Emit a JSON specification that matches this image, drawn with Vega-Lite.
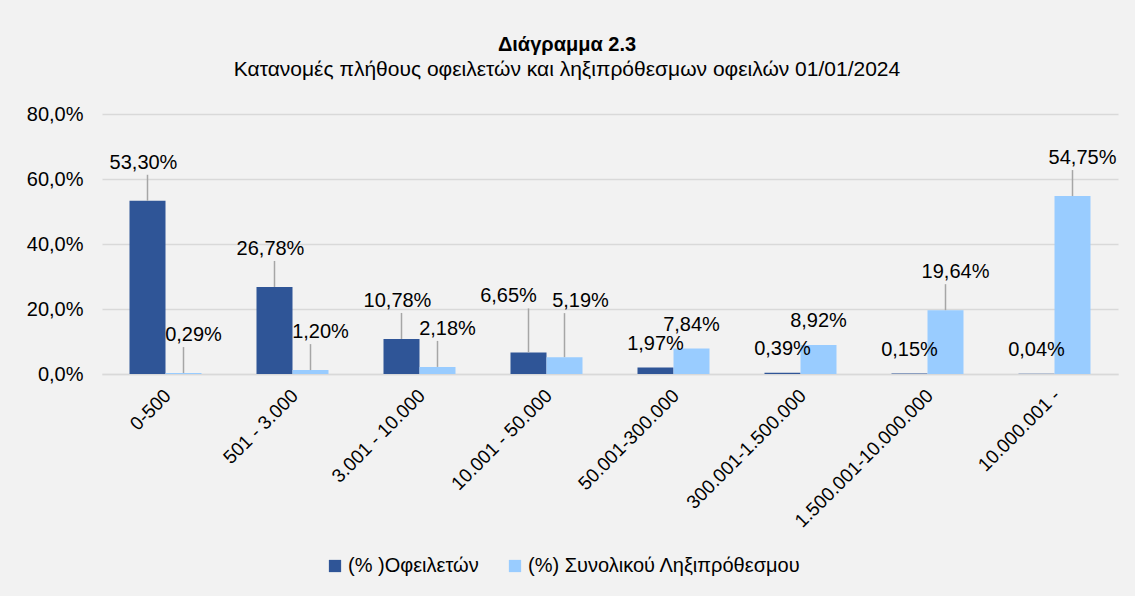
{
  "$schema": "https://vega.github.io/schema/vega-lite/v6.json",
  "autosize": "none",
  "width": 1016,
  "height": 260,
  "padding": {"left": 102, "top": 114, "right": 17, "bottom": 222},
  "background": "#F2F2F2",
  "config": {
    "locale": {"number": {"decimal": ",", "thousands": ".", "grouping": [3], "currency": ["", " €"]}},
    "font": "Liberation Sans",
    "view": {"stroke": null},
    "title": {"font": "Liberation Sans", "subtitleFont": "Liberation Sans"}
  },
  "title": {
    "text": "Διάγραμμα 2.3",
    "subtitle": "Κατανομές πλήθους οφειλετών και ληξιπρόθεσμων οφειλών 01/01/2024",
    "anchor": "middle",
    "dx": -43,
    "offset": 24,
    "fontSize": 20,
    "fontWeight": "bold",
    "color": "#000000",
    "subtitleFontSize": 21,
    "subtitleColor": "#000000",
    "subtitlePadding": 4
  },
  "data": {
    "values": [
      {"cat": "0-500", "series": "(% )Οφειλετών", "value": 0.5330},
      {"cat": "501 - 3.000", "series": "(% )Οφειλετών", "value": 0.2678},
      {"cat": "3.001 - 10.000", "series": "(% )Οφειλετών", "value": 0.1078},
      {"cat": "10.001 - 50.000", "series": "(% )Οφειλετών", "value": 0.0665},
      {"cat": "50.001-300.000", "series": "(% )Οφειλετών", "value": 0.0197},
      {"cat": "300.001-1.500.000", "series": "(% )Οφειλετών", "value": 0.0039},
      {"cat": "1.500.001-10.000.000", "series": "(% )Οφειλετών", "value": 0.0015},
      {"cat": "10.000.001 -", "series": "(% )Οφειλετών", "value": 0.0004},
      {"cat": "0-500", "series": "(%) Συνολικού Ληξιπρόθεσμου", "value": 0.0029},
      {"cat": "501 - 3.000", "series": "(%) Συνολικού Ληξιπρόθεσμου", "value": 0.0120},
      {"cat": "3.001 - 10.000", "series": "(%) Συνολικού Ληξιπρόθεσμου", "value": 0.0218},
      {"cat": "10.001 - 50.000", "series": "(%) Συνολικού Ληξιπρόθεσμου", "value": 0.0519},
      {"cat": "50.001-300.000", "series": "(%) Συνολικού Ληξιπρόθεσμου", "value": 0.0784},
      {"cat": "300.001-1.500.000", "series": "(%) Συνολικού Ληξιπρόθεσμου", "value": 0.0892},
      {"cat": "1.500.001-10.000.000", "series": "(%) Συνολικού Ληξιπρόθεσμου", "value": 0.1964},
      {"cat": "10.000.001 -", "series": "(%) Συνολικού Ληξιπρόθεσμου", "value": 0.5475}
    ]
  },
  "encoding": {
    "x": {
      "field": "cat", "type": "nominal", "sort": null,
      "scale": {"paddingInner": 0.433, "paddingOuter": 0.2165},
      "axis": {
        "title": null, "labelAngle": -45, "labelFontSize": 19, "labelColor": "#000000",
        "labelFont": "Liberation Sans", "ticks": false, "domainColor": "#D9D9D9", "domainWidth": 1.5,
        "labelPadding": 12, "labelOffset": -4, "labelLimit": 300
      }
    },
    "xOffset": {"field": "series", "type": "nominal", "sort": null},
    "y": {
      "field": "value", "type": "quantitative",
      "scale": {"domain": [0, 0.8], "nice": false},
      "axis": {
        "title": null, "format": ".1%", "values": [0, 0.2, 0.4, 0.6, 0.8],
        "labelFontSize": 20, "labelColor": "#000000", "labelFont": "Liberation Sans",
        "domain": false, "ticks": false, "labelPadding": 19,
        "gridColor": "#D9D9D9", "gridWidth": 1.5
      }
    }
  },
  "layer": [
    {
      "mark": {"type": "bar"},
      "encoding": {
        "color": {
          "field": "series", "type": "nominal", "sort": null,
          "scale": {"range": ["#2F5597", "#99CCFF"]},
          "legend": {
            "title": null, "orient": "none", "direction": "horizontal",
            "legendX": 223, "legendY": 442,
            "symbolType": "square", "symbolSize": 150, "symbolStrokeWidth": 0,
            "labelFontSize": 20, "labelColor": "#000000", "labelFont": "Liberation Sans",
            "columnPadding": 26, "labelOffset": 3, "labelLimit": 500
          }
        }
      }
    },
    {
      "transform": [{"filter": "datum.cat !== '10.001 - 50.000' && ((datum.series === '(% )Οφειλετών' && datum.value > 0.05) || (datum.series !== '(% )Οφειλετών' && (datum.value < 0.07 || datum.value > 0.1)))"}],
      "mark": {"type": "rule", "color": "#A6A6A6", "strokeWidth": 1.5, "y2Offset": -26},
      "encoding": {"y2": {"field": "value"}}
    },
    {
      "transform": [{"filter": "datum.cat === '10.001 - 50.000'"}],
      "mark": {"type": "rule", "color": "#A6A6A6", "strokeWidth": 1.5, "y2Offset": -44},
      "encoding": {"y2": {"field": "value"}}
    },
    {
      "transform": [{"filter": "datum.cat !== '10.001 - 50.000' && datum.series === '(% )Οφειλετών' && datum.value > 0.05"}],
      "mark": {"type": "text", "fontSize": 20, "dy": -38, "dx": -4, "baseline": "middle", "color": "#000000"},
      "encoding": {"text": {"field": "value", "type": "quantitative", "format": ".2%"}}
    },
    {
      "transform": [{"filter": "datum.cat !== '10.001 - 50.000' && datum.series !== '(% )Οφειλετών' && (datum.value < 0.07 || datum.value > 0.1)"}],
      "mark": {"type": "text", "fontSize": 20, "dy": -38, "dx": 10, "baseline": "middle", "color": "#000000"},
      "encoding": {"text": {"field": "value", "type": "quantitative", "format": ".2%"}}
    },
    {
      "transform": [{"filter": "datum.cat === '10.001 - 50.000' && datum.series === '(% )Οφειλετών'"}],
      "mark": {"type": "text", "fontSize": 20, "dy": -56, "dx": -20, "baseline": "middle", "color": "#000000"},
      "encoding": {"text": {"field": "value", "type": "quantitative", "format": ".2%"}}
    },
    {
      "transform": [{"filter": "datum.cat === '10.001 - 50.000' && datum.series !== '(% )Οφειλετών'"}],
      "mark": {"type": "text", "fontSize": 20, "dy": -56, "dx": 16, "baseline": "middle", "color": "#000000"},
      "encoding": {"text": {"field": "value", "type": "quantitative", "format": ".2%"}}
    },
    {
      "transform": [{"filter": "(datum.series === '(% )Οφειλετών' && datum.value <= 0.05) || (datum.series !== '(% )Οφειλετών' && datum.value >= 0.07 && datum.value <= 0.1)"}],
      "mark": {"type": "text", "fontSize": 20, "dy": -24, "dx": 0, "baseline": "middle", "color": "#000000"},
      "encoding": {"text": {"field": "value", "type": "quantitative", "format": ".2%"}}
    }
  ]
}
